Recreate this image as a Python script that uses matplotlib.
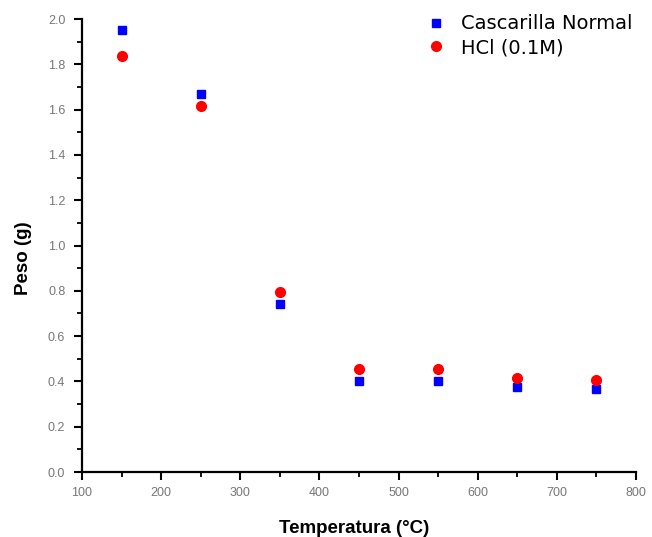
import matplotlib.pyplot as plt
from matplotlib.ticker import MultipleLocator

temperatura = [150, 250, 350, 450, 550, 650, 750]
peso_normal = [1.95, 1.67, 0.74, 0.40, 0.40, 0.375, 0.365]
peso_hcl = [1.835, 1.615, 0.795, 0.455, 0.455, 0.415, 0.405]

plt.rcParams["font.family"] = ["Liberation Sans", "DejaVu Sans"]

fig = plt.figure(figsize=(6.52, 5.37), dpi=100)
ax = fig.add_axes([0.1258, 0.121, 0.8497, 0.8436])

ax.plot(temperatura, peso_normal, linestyle="none", marker="s", color="#0000ff",
        markersize=6, label="Cascarilla Normal")
ax.plot(temperatura, peso_hcl, linestyle="none", marker="o", color="#ff0000",
        markersize=7, label="HCl (0.1M)")

ax.set_xlim(100, 800)
ax.set_ylim(0, 2.0)
ax.xaxis.set_major_locator(MultipleLocator(100))
ax.xaxis.set_minor_locator(MultipleLocator(50))
ax.yaxis.set_major_locator(MultipleLocator(0.2))
ax.yaxis.set_minor_locator(MultipleLocator(0.1))

for s in ["top", "right"]:
    ax.spines[s].set_visible(False)
for s in ["left", "bottom"]:
    ax.spines[s].set_linewidth(1.6)

ax.tick_params(which="major", direction="out", length=6, width=1.5,
               labelsize=9, labelcolor="#777777")
ax.tick_params(axis="y", which="major", pad=6)
ax.tick_params(axis="x", which="major", pad=5)
ax.tick_params(which="minor", direction="out", length=3.5, width=1.3)

ax.set_xlabel("Temperatura (°C)", fontsize=13.5, fontweight="bold")
ax.set_ylabel("Peso (g)", fontsize=13.5, fontweight="bold")
ax.xaxis.set_label_coords(0.491, -0.106)
ax.yaxis.set_label_coords(-0.09, 0.472)

ax.legend(loc="upper right", bbox_to_anchor=(1.025, 1.049), frameon=False,
          prop={"family": "DejaVu Sans", "size": 14},
          handletextpad=0.8, labelspacing=0.25, handlelength=1.0,
          borderpad=0.4)

fig.savefig("out.png", dpi=100)
